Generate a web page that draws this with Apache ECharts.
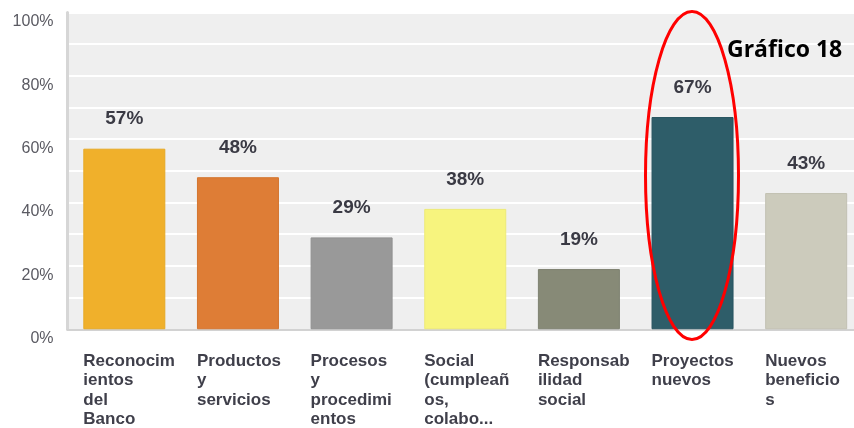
<!DOCTYPE html>
<html>
<head>
<meta charset="utf-8">
<script src="https://cdn.jsdelivr.net/npm/echarts@6/dist/echarts.min.js"></script>
<style>
  html, body { margin: 0; padding: 0; background: #ffffff; overflow: hidden; }
  /* the plot runs a little past the right edge of the window */
  #chart { width: 863px; height: 428px; }
</style>
</head>
<body>
<div id="chart"></div>
<script>
// Survey answers, share of respondents per topic
const categories = [
  'Reconocimientos del Banco',
  'Productos y servicios',
  'Procesos y procedimientos',
  'Social (cumpleaños, colabo...',
  'Responsabilidad social',
  'Proyectos nuevos',
  'Nuevos beneficios'
];
// Wrapped axis labels, one array of lines per category
const categoryLines = [
  ['Reconocim', 'ientos', 'del', 'Banco'],
  ['Productos', 'y', 'servicios'],
  ['Procesos', 'y', 'procedimi', 'entos'],
  ['Social', '(cumpleañ', 'os,', 'colabo...'],
  ['Responsab', 'ilidad', 'social'],
  ['Proyectos', 'nuevos'],
  ['Nuevos', 'beneficio', 's']
];
const values = [57, 48, 29, 38, 19, 67, 43];
const barColors = ['#F0B02B', '#DE7D36', '#999999', '#F7F47E', '#878A77', '#2E5D69', '#CCCBBC'];
const barEdges = ['#E6A825', '#D4752F', '#909090', '#EDEA76', '#7E8170', '#285560', '#C2C1B2'];
const yTickLabels = [0, 20, 40, 60, 80, 100];
const chartTitle = 'Gráfico 18';

const chart = echarts.init(document.getElementById('chart'), null, { renderer: 'canvas' });

chart.setOption({
  animation: false,
  backgroundColor: '#ffffff',
  grid: {
    left: 67.5,
    top: 12.5,
    bottom: 96,
    right: 0,
    show: true,
    backgroundColor: '#efefef',
    borderWidth: 0
  },
  xAxis: {
    type: 'category',
    data: categories,
    axisLine: { show: true, lineStyle: { color: '#d2d2d2', width: 2 } },
    axisTick: { show: false },
    axisLabel: {
      interval: 0,
      margin: 22,
      align: 'center',
      verticalAlign: 'top',
      formatter: function (v, idx) {
        return categoryLines[idx].map(function (l) { return '{a|' + l + '}'; }).join('\n');
      },
      rich: {
        a: {
          width: 82,
          align: 'left',
          fontFamily: 'Liberation Sans, Arial, sans-serif',
          fontWeight: 'bold',
          fontSize: 17,
          lineHeight: 19.5,
          color: '#3f3f4a'
        }
      }
    }
  },
  yAxis: {
    type: 'value',
    min: 0,
    max: 100,
    interval: 10,
    axisLine: { show: true, lineStyle: { color: '#d6d6d6', width: 3 } },
    axisTick: { show: false },
    splitLine: { show: true, lineStyle: { color: '#ffffff', width: 2 } },
    axisLabel: {
      margin: 14,
      fontFamily: 'Liberation Sans, Arial, sans-serif',
      fontSize: 16,
      color: '#5a5a62',
      verticalAlign: 'top',
      lineHeight: 19,
      formatter: function (v) {
        return yTickLabels.indexOf(v) >= 0 ? v + '%' : '';
      }
    }
  },
  series: [{
    type: 'bar',
    data: values.map(function (v, i) {
      return {
        value: v,
        itemStyle: { color: barColors[i], borderColor: barEdges[i], borderWidth: 1 }
      };
    }),
    barWidth: 82,
    label: {
      show: true,
      position: 'top',
      distance: 20,
      formatter: '{c}%',
      fontFamily: 'Liberation Sans, Arial, sans-serif',
      fontWeight: 'bold',
      fontSize: 19,
      color: '#3a3a44'
    }
  }],
  graphic: [
    {
      type: 'ellipse',
      z: 100,
      shape: { cx: 692, cy: 175.5, rx: 46.5, ry: 164 },
      style: { fill: 'none', stroke: '#ff0000', lineWidth: 3 }
    },
    {
      type: 'text',
      z: 100,
      left: 727,
      top: 39,
      style: {
        text: chartTitle,
        fontFamily: 'Open Sans, sans-serif',
        fontWeight: 'bold',
        fontSize: 23,
        fill: '#000000'
      }
    }
  ]
});
</script>
</body>
</html>
